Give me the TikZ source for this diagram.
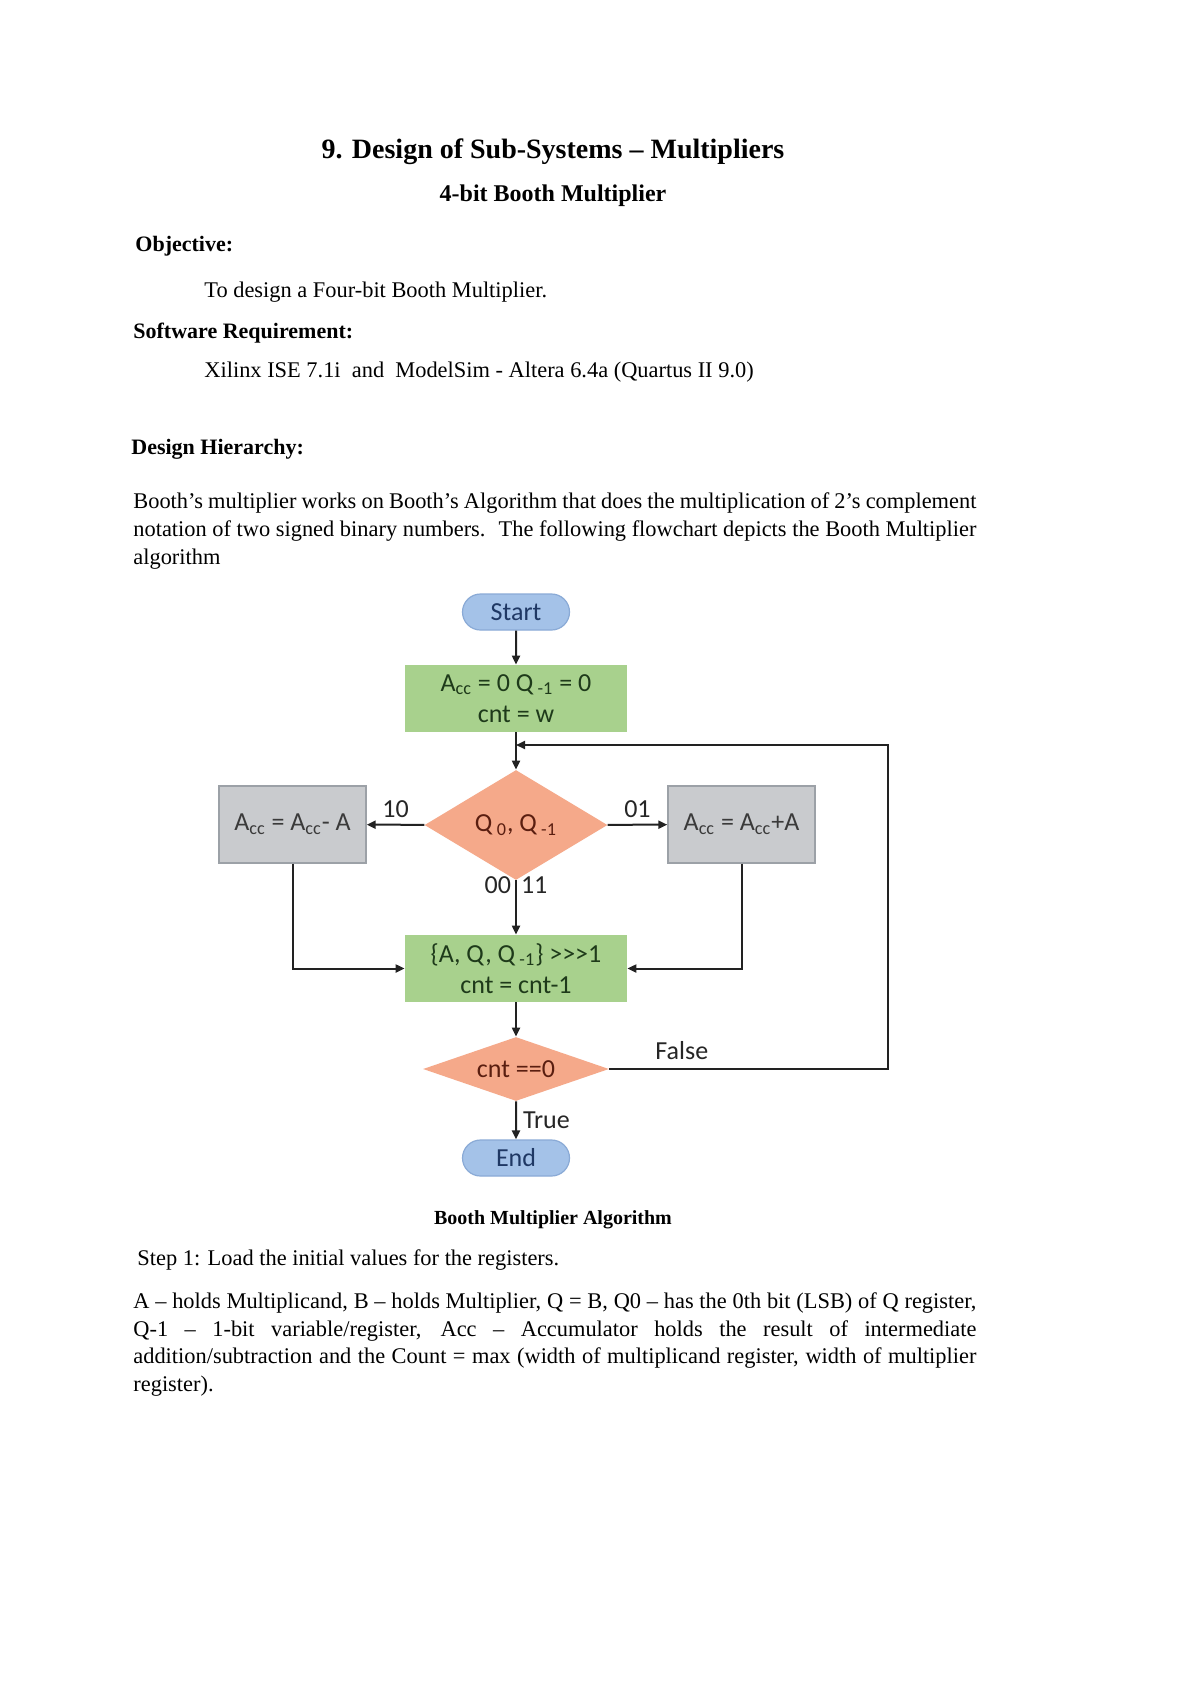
\documentclass[tikz,border=0pt]{standalone}
\usepackage{fontspec}
\setmainfont{Liberation Serif}
\newfontfamily\flowf{Carlito}
\usetikzlibrary{arrows.meta,shapes.geometric,shapes.misc,positioning}
\definecolor{pillblue}{HTML}{A4C2E8}
\definecolor{pilledge}{HTML}{8AAAD6}
\definecolor{pilltext}{HTML}{1F3864}
\definecolor{boxgreen}{HTML}{A8D18D}
\definecolor{greentext}{HTML}{1E3A1A}
\definecolor{salmon}{HTML}{F5A98A}
\definecolor{salmontext}{HTML}{5A1E10}
\definecolor{boxgray}{HTML}{C9CBCE}
\definecolor{grayedge}{HTML}{9CA1A7}
\definecolor{graytext}{HTML}{3A3A3A}
\definecolor{linecol}{HTML}{222222}
\newcommand\bodyfont{\fontsize{11.2}{14}\selectfont}
\newcommand\headfont{\fontsize{11}{14}\selectfont\bfseries}
\newcommand\chartfont{\flowf\fontsize{13}{15.5}\selectfont}
\tikzset{
  txt/.style={inner sep=0pt, anchor=base west, font=\bodyfont},
  head/.style={inner sep=0pt, anchor=base west, font=\headfont},
  pill/.style={rounded rectangle, draw=pilledge, line width=0.6pt, fill=pillblue,
    minimum width=53.5pt, minimum height=18pt, inner sep=0pt, font=\chartfont, text=pilltext},
  greenbox/.style={rectangle, fill=boxgreen, minimum width=111pt, minimum height=33.5pt,
    inner sep=0pt, align=center, font=\chartfont, text=greentext},
  graybox/.style={rectangle, fill=boxgray, draw=grayedge, line width=0.7pt,
    minimum width=73.5pt, minimum height=38.5pt, inner sep=0pt, font=\chartfont, text=graytext},
  decide/.style={diamond, fill=salmon, inner sep=0pt, aspect=1.7, font=\chartfont, text=salmontext},
  arr/.style={draw=linecol, line width=1pt, -{Triangle[length=4.5pt,width=4pt]}},
  lbl/.style={font=\chartfont, text=black!85, inner sep=2pt},
}
\begin{document}
\begin{tikzpicture}[x=0.5pt,y=-0.5pt]
\useasboundingbox (0,0) rectangle (1200,1696);
\fill[white] (0,0) rectangle (1200,1696);

% ---- header text ----
\node[inner sep=0pt, anchor=base, font=\fontsize{14}{16}\selectfont\bfseries] (title) at (553,159) {9. Design of Sub-Systems – Multipliers};
\node[inner sep=0pt, anchor=base, font=\fontsize{12}{14}\selectfont\bfseries] (subtitle) at (553,202) {4-bit Booth Multiplier};
\node[head] (obj) at (135,251) {Objective:};
\node[txt] (objt) at (204,297) {To design a Four-bit Booth Multiplier.};
\node[head] (sw) at (133,338) {Software Requirement:};
\node[txt] (swt) at (204,377) {Xilinx ISE 7.1i \ and \ ModelSim - Altera 6.4a (Quartus II 9.0)};
\node[head] (dh) at (131,454) {Design Hierarchy:};
\node[txt] (p1a) at (133,508) {\makebox[421.5pt][s]{Booth’s multiplier works on Booth’s Algorithm that does the multiplication of 2’s complement}};
\node[txt] (p1b) at (133,536) {\makebox[421.5pt][s]{notation of two signed binary numbers. \ The following flowchart depicts the Booth Multiplier}};
\node[txt] (p1c) at (133,564) {algorithm};

% ---- flowchart ----
\node[pill] (start) at (516,612) {Start};
\node[greenbox] (init) at (516,698.5) {A\textsubscript{cc} = 0 Q\,\textsubscript{-1} = 0\\cnt = w};
\node[decide, minimum width=91.5pt, minimum height=55pt] (d1) at (516,825) {Q\,\textsubscript{0}, Q\,\textsubscript{-1}};
\node[graybox] (sub) at (292.5,824.5) {A\textsubscript{cc} = A\textsubscript{cc}- A};
\node[graybox] (add) at (741.5,824.5) {A\textsubscript{cc} = A\textsubscript{cc}+A};
\node[greenbox] (shift) at (516,968.5) {\{A, Q, Q\,\textsubscript{-1}\} >{}>{}>1\\cnt = cnt-1};
\node[decide, minimum width=93pt, minimum height=32pt] (d2) at (516,1069) {cnt ==0};
\node[pill] (end) at (516,1158) {End};
\coordinate (fbcorner) at (888,745);
\coordinate (fbjoin) at (516,745);

\draw[arr] (start) -- (init);
\draw[arr] (init) -- (d1);
\draw[arr] (d1) -- node[lbl, above=1pt]{10} (sub);
\draw[arr] (d1) -- node[lbl, above=1pt]{01} (add);
\draw[arr] (d1) -- node[lbl, pos=0.08, left]{00} node[lbl, pos=0.08, right]{11} (shift);
\draw[arr] (sub.south) |- (shift.west);
\draw[arr] (add.south) |- (shift.east);
\draw[arr] (shift) -- (d2);
\draw[arr] (d2.east) -| node[lbl, pos=0.13, above=2pt]{False} (fbcorner) -- (fbjoin);
\draw[arr] (d2) -- node[lbl, right=1pt]{True} (end);

% ---- lower text ----
\node[inner sep=0pt, anchor=base, font=\fontsize{10}{12}\selectfont\bfseries] (cap) at (553,1224) {Booth Multiplier Algorithm};
\node[txt] (step) at (137,1265) {Step 1: Load the initial values for the registers.};
\node[txt] (p2a) at (133,1308) {\makebox[421.5pt][s]{A – holds Multiplicand, B – holds Multiplier, Q = B, Q0 – has the 0th bit (LSB) of Q register,}};
\node[txt] (p2b) at (133,1336) {\makebox[421.5pt][s]{Q-1 – 1-bit variable/register, Acc – Accumulator holds the result of intermediate}};
\node[txt] (p2c) at (133,1363) {\makebox[421.5pt][s]{addition/subtraction and the Count = max (width of multiplicand register, width of multiplier}};
\node[txt] (p2d) at (133,1391) {register).};
\end{tikzpicture}
\end{document}
